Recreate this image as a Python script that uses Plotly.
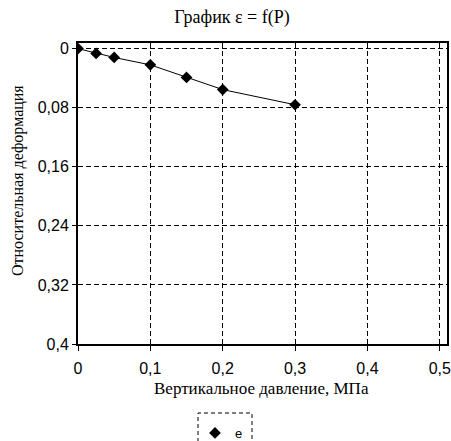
import plotly.graph_objects as go

pressure = [0, 0.025, 0.05, 0.1, 0.15, 0.2, 0.3]
strain = [0, 0.0065, 0.012, 0.022, 0.039, 0.0555, 0.076]
x_ticks = [0, 0.1, 0.2, 0.3, 0.4, 0.5]
x_labels = ["0", "0,1", "0,2", "0,3", "0,4", "0,5"]
y_ticks = [0, 0.08, 0.16, 0.24, 0.32, 0.4]
y_labels = ["0", "0,08", "0,16", "0,24", "0,32", "0,4"]
series_name = "e"

SERIF = "Liberation Serif"
SANS = "Liberation Sans"

W, H = 451, 441
L, R, T, B = 78, 4, 43, 97
pw, ph = W - L - R, H - T - B


def px(xp):
    return (xp - L) / pw


def py(yp):
    return (H - B - yp) / ph


fig = go.Figure()
fig.add_trace(go.Scatter(
    x=pressure, y=strain, mode="lines+markers", name=series_name,
    line=dict(color="black", width=1),
    marker=dict(symbol="diamond", size=9, color="black"),
    cliponaxis=True, showlegend=False,
))
# legend entry (marker only, as in the reference)
fig.add_trace(go.Scatter(
    x=[None], y=[None], mode="markers", name=series_name,
    marker=dict(symbol="diamond", size=9, color="black"),
    showlegend=True,
))

fig.update_layout(
    width=W, height=H,
    margin=dict(l=L, r=R, t=T, b=B, autoexpand=False),
    paper_bgcolor="white", plot_bgcolor="white",
    title=dict(text="График ε = f(P)", x=232 / W, xanchor="center",
               y=1 - 17 / H, yanchor="middle",
               font=dict(family=SERIF, size=18, color="black")),
    font=dict(family=SANS, size=12, color="black"),
    showlegend=True,
    legend=dict(x=px(195), xanchor="left",
                y=py(418), yanchor="top",
                bgcolor="rgba(0,0,0,0)", borderwidth=0,
                font=dict(family=SANS, size=13, color="black"),
                itemwidth=30),
    xaxis=dict(range=[0, 0.51], tickvals=x_ticks, ticktext=x_labels,
               automargin=False,
               showgrid=True, gridcolor="black", griddash="5px,3px", gridwidth=1,
               showline=True, linecolor="black", linewidth=2, mirror=True,
               ticks="outside", ticklen=5, tickcolor="black",
               ticklabelstandoff=4,
               zeroline=False,
               tickfont=dict(family=SANS, size=16)),
    yaxis=dict(range=[0.4, -0.0076], tickvals=y_ticks, ticktext=y_labels,
               automargin=False,
               showgrid=True, gridcolor="black", griddash="5px,3px", gridwidth=1,
               showline=True, linecolor="black", linewidth=2, mirror=True,
               ticks="outside", ticklen=4, tickcolor="black",
               zeroline=False,
               tickfont=dict(family=SANS, size=16)),
    annotations=[
        dict(text="Вертикальное давление, МПа", xref="paper", yref="paper",
             x=px(261), y=py(388), xanchor="center", yanchor="middle",
             showarrow=False, font=dict(family=SERIF, size=17, color="black")),
        dict(text="Относительная деформация", xref="paper", yref="paper",
             x=px(18), y=py(181), xanchor="center", yanchor="middle",
             textangle=-90, showarrow=False,
             font=dict(family=SERIF, size=16, color="black")),
    ],
)

fig.add_shape(type="rect", xref="paper", yref="paper",
              x0=px(198), x1=px(252),
              y0=py(448), y1=py(413),
              line=dict(color="black", width=1, dash="4px,3px"))

fig.write_html("out.html", config={"displayModeBar": False},
               post_script="document.body.style.margin='0';document.body.style.overflow='hidden';")
